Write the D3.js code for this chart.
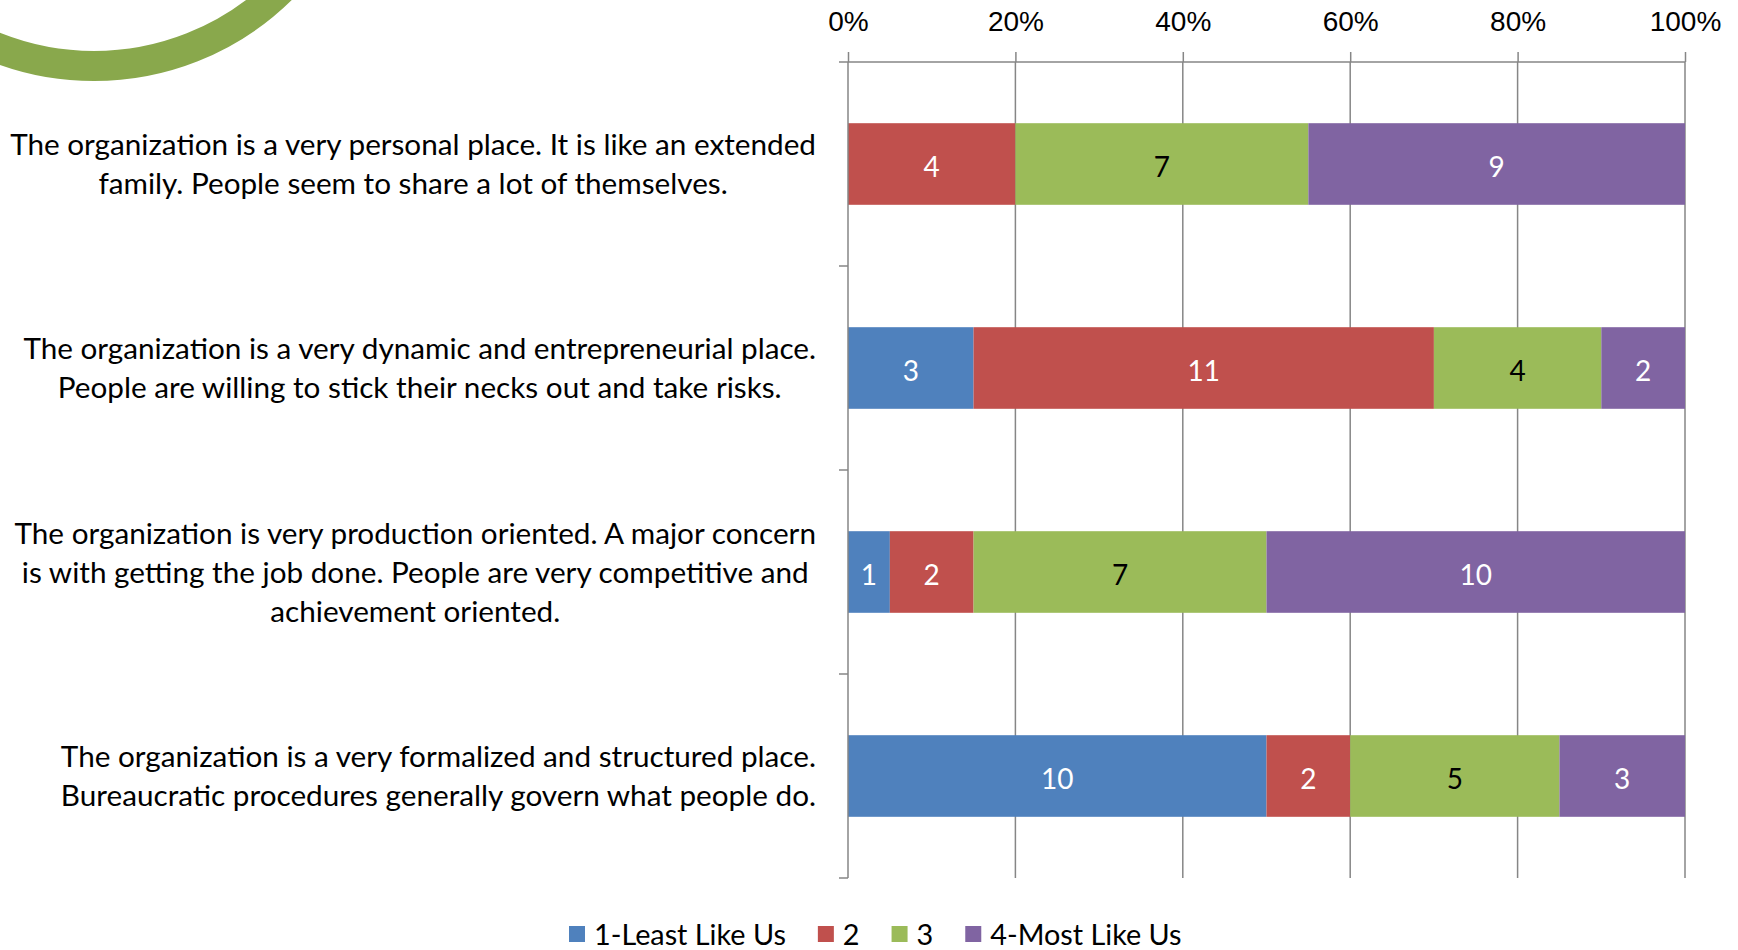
<!DOCTYPE html>
<html>
<head>
<meta charset="utf-8">
<script src="https://cdn.jsdelivr.net/npm/d3@7"></script>
<style>
  html, body { margin: 0; padding: 0; background: #fff; }
  svg { display: block; font-family: Lato, "Open Sans", sans-serif; }
</style>
</head>
<body>
<div id="chart"></div>
<script>
const width = 1738;
const height = 950;

// statements, as wrapped in the original
const statements = [
  ["The organization is a very personal place. It is like an extended", "family. People seem to share a lot of themselves."],
  ["The organization is a very dynamic and entrepreneurial place.", "People are willing to stick their necks out and take risks."],
  ["The organization is very production oriented. A major concern", "is with getting the job done. People are very competitive and", "achievement oriented."],
  ["The organization is a very formalized and structured place.", "Bureaucratic procedures generally govern what people do."]
];
const seriesNames = ["1-Least Like Us", "2", "3", "4-Most Like Us"];
const leastLikeUs = [0, 3, 1, 10];
const two = [4, 11, 2, 2];
const three = [7, 4, 7, 5];
const mostLikeUs = [9, 2, 10, 3];
const percentTicks = [0, 0.2, 0.4, 0.6, 0.8, 1];

const colors = ["#4f81bd", "#c0504d", "#9bbb59", "#8064a2"];
const labelColors = ["#fff", "#fff", "#000", "#fff"];
const fontSize = 28;
const catFontSize = 29.7;
const legendFontSize = 28.8;

const svg = d3.select("#chart").append("svg").attr("width", width).attr("height", height);

// decorative green ring in the corner
svg.append("circle")
  .attr("cx", 94).attr("cy", -201)
  .attr("r", 267)
  .attr("fill", "none")
  .attr("stroke", "#89a84c")
  .attr("stroke-width", 30);

const margin = { left: 848, right: 53, top: 62, bottom: 72 };

const x = d3.scaleLinear().domain([0, 1]).range([margin.left, width - margin.right]);
const y = d3.scaleBand().domain(d3.range(statements.length))
  .range([margin.top, height - margin.bottom])
  .paddingInner(0.6).paddingOuter(0.3);

// grid
svg.append("g")
  .selectAll("line")
  .data(percentTicks.slice(1))
  .join("line")
  .attr("x1", d => x(d)).attr("x2", d => x(d))
  .attr("y1", margin.top).attr("y2", height - margin.bottom)
  .attr("stroke", "#868686").attr("stroke-width", 1.5);

// stacked bars
const rows = statements.map((s, i) => ({
  i,
  values: [leastLikeUs[i], two[i], three[i], mostLikeUs[i]]
}));

rows.forEach(row => {
  const total = d3.sum(row.values);
  let acc = 0;
  const segs = row.values.map((v, k) => {
    const s = { k, v, x0: acc / total, x1: (acc + v) / total };
    acc += v;
    return s;
  }).filter(s => s.v > 0);

  const g = svg.append("g");
  g.selectAll("rect")
    .data(segs)
    .join("rect")
    .attr("x", d => x(d.x0))
    .attr("width", d => x(d.x1) - x(d.x0))
    .attr("y", y(row.i))
    .attr("height", y.bandwidth())
    .attr("fill", d => colors[d.k]);

  g.selectAll("text")
    .data(segs)
    .join("text")
    .attr("x", d => (x(d.x0) + x(d.x1)) / 2)
    .attr("y", y(row.i) + y.bandwidth() / 2)
    .attr("dy", "0.45em")
    .attr("text-anchor", "middle")
    .attr("font-size", fontSize)
    .attr("fill", d => labelColors[d.k])
    .text(d => d.v);
});

// top percentage axis
const xAxis = svg.append("g")
  .attr("transform", `translate(0,${margin.top})`)
  .call(d3.axisTop(x).tickValues(percentTicks).tickFormat(d3.format(".0%")).tickSize(10).tickPadding(21));
xAxis.select(".domain").attr("d", `M${margin.left - 9},0H${x(1)}`).attr("stroke", "#868686").attr("stroke-width", 1.5);
xAxis.selectAll(".tick line").attr("stroke", "#868686").attr("stroke-width", 1.5);
xAxis.selectAll(".tick text").attr("font-size", fontSize).attr("font-family", null).attr("fill", "#000");

// left category axis line with ticks at band boundaries
const bandEdges = d3.range(statements.length + 1).map(i => margin.top + i * y.step());
const catAxis = svg.append("g");
catAxis.append("line")
  .attr("x1", margin.left).attr("x2", margin.left)
  .attr("y1", margin.top).attr("y2", height - margin.bottom)
  .attr("stroke", "#868686").attr("stroke-width", 1.5);
catAxis.selectAll(".ctick")
  .data(bandEdges.slice(1))
  .join("line")
  .attr("class", "ctick")
  .attr("x1", margin.left - 9).attr("x2", margin.left)
  .attr("y1", d => d).attr("y2", d => d)
  .attr("stroke", "#868686").attr("stroke-width", 1.5);

// category labels: each block right-aligned, lines centred within
const lineHeight = 39;
const labelRight = 816;
statements.forEach((lines, i) => {
  const g = svg.append("g");
  const cy = y(i) + y.bandwidth() / 2;
  const texts = g.selectAll("text")
    .data(lines)
    .join("text")
    .attr("y", (d, j) => cy + (j - (lines.length - 1) / 2) * lineHeight)
    .attr("dy", "0.37em")
    .attr("text-anchor", "middle")
    .attr("font-size", catFontSize)
    .attr("fill", "#000")
    .text(d => d);
  let maxW = 0;
  texts.each(function () { maxW = Math.max(maxW, this.getComputedTextLength()); });
  texts.attr("x", labelRight - maxW / 2);
});

// legend
const legend = svg.append("g").attr("transform", "translate(0,934)");
let lx = 569;
seriesNames.forEach((name, k) => {
  legend.append("rect")
    .attr("x", lx).attr("y", -8)
    .attr("width", 16).attr("height", 16)
    .attr("fill", colors[k]);
  const t = legend.append("text")
    .attr("x", lx + 25).attr("y", 0).attr("dy", "0.37em")
    .attr("font-size", legendFontSize)
    .attr("fill", "#000")
    .text(name);
  lx += 25 + t.node().getComputedTextLength() + 32;
});
</script>
</body>
</html>
